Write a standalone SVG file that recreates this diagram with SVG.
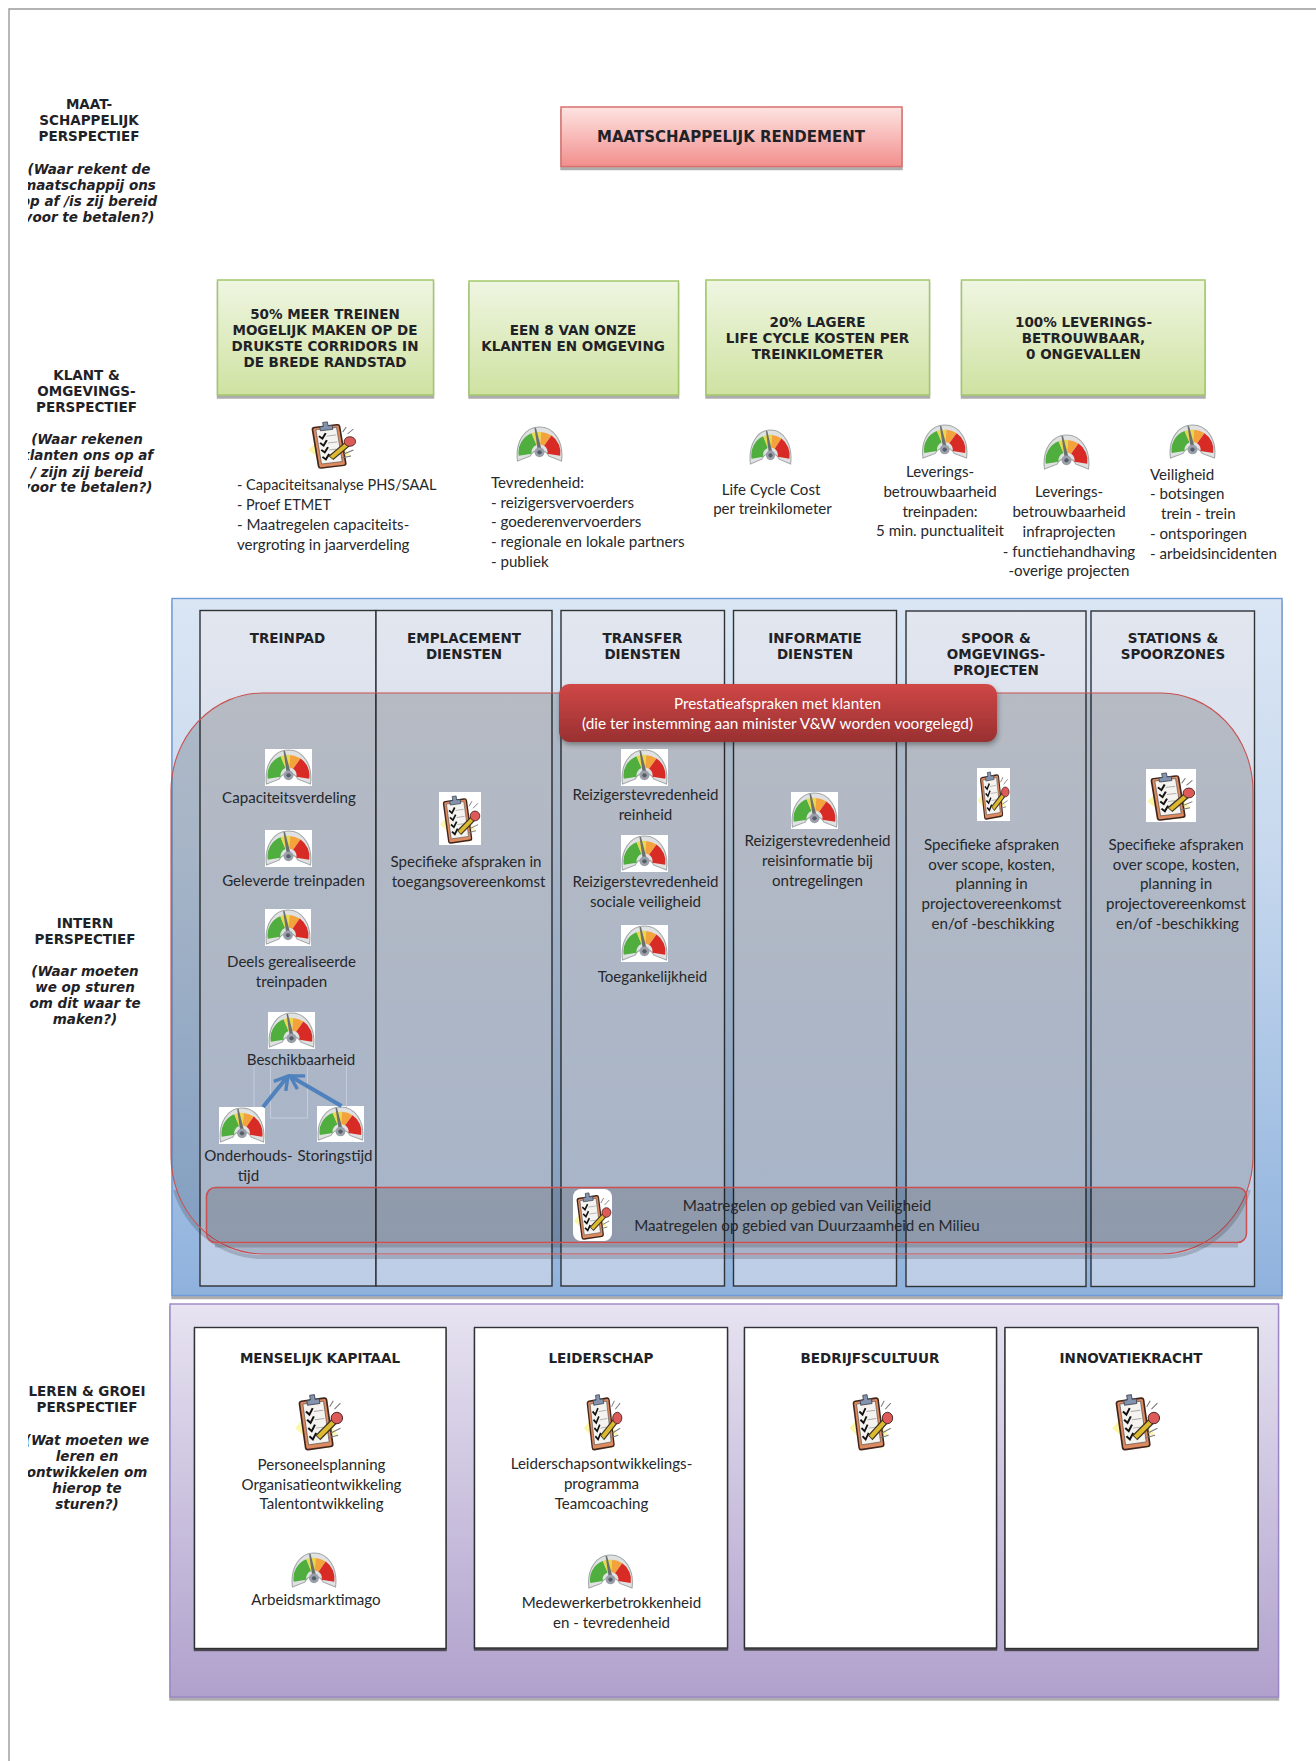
<svg xmlns="http://www.w3.org/2000/svg" xmlns:xlink="http://www.w3.org/1999/xlink" width="1316" height="1761" viewBox="0 0 1316 1761">
<style>
text{text-anchor:middle;fill:#26282c}
.h{font:bold 13.5px "DejaVu Sans",Verdana,sans-serif;fill:#1f2226}
.hi{font:italic bold 13.5px "DejaVu Sans",Verdana,sans-serif;fill:#1f2226}
.r{font-size:15px}
.t{font:15.1px Lato,"Open Sans",sans-serif}
.l{text-anchor:start}
.w{fill:#fff}
.green{fill:url(#gGreen);stroke:#a3c76a;stroke-width:1.5;filter:url(#sh)}
.col{fill:url(#gCol);stroke:#303236;stroke-width:1.4}
.card{fill:#fff;stroke:#2e3034;stroke-width:1.4;filter:url(#sh2)}
.conn{fill:none;stroke:#4f81bd;stroke-width:4;marker-end:url(#arr)}
.faint{fill:none;stroke:#c3cddd;stroke-width:1}
.soft{fill:none;stroke:#2f3338;stroke-opacity:.22;stroke-width:4}
</style>
<defs>
<linearGradient id="gRed" x1="0" y1="0" x2="0" y2="1"><stop offset="0" stop-color="#fde4e2"/><stop offset="1" stop-color="#f28f8d"/></linearGradient>
<linearGradient id="gGreen" x1="0" y1="0" x2="0" y2="1"><stop offset="0" stop-color="#eff6e2"/><stop offset="1" stop-color="#cfe2a1"/></linearGradient>
<linearGradient id="gBlue" x1="0" y1="0" x2="0" y2="1"><stop offset="0" stop-color="#dae6f4"/><stop offset=".35" stop-color="#c8d9ee"/><stop offset="1" stop-color="#8fb2dd"/></linearGradient>
<linearGradient id="gCol" gradientUnits="userSpaceOnUse" x1="0" y1="610" x2="0" y2="1286"><stop offset="0" stop-color="#e2e6ef"/><stop offset="1" stop-color="#bdcde6"/></linearGradient>
<linearGradient id="gPurple" x1="0" y1="0" x2="0" y2="1"><stop offset="0" stop-color="#e7e3f1"/><stop offset="1" stop-color="#b0a1cc"/></linearGradient>
<linearGradient id="gOver" x1="0" y1="0" x2="0" y2="1"><stop offset="0" stop-color="#000" stop-opacity=".18"/><stop offset="1" stop-color="#000" stop-opacity=".13"/></linearGradient>
<linearGradient id="gBanner" x1="0" y1="0" x2="0" y2="1"><stop offset="0" stop-color="#d04746"/><stop offset="1" stop-color="#993031"/></linearGradient>
<filter id="sh" x="-5%" y="-5%" width="110%" height="115%"><feDropShadow dx="0" dy="3" stdDeviation=".6" flood-color="#8a8a8a" flood-opacity=".7"/></filter>
<filter id="sh2" x="-5%" y="-5%" width="110%" height="110%"><feDropShadow dx="0" dy="2" stdDeviation=".6" flood-color="#333" flood-opacity=".8"/></filter>
<filter id="sh3" x="-5%" y="-10%" width="110%" height="130%"><feDropShadow dx="1" dy="3" stdDeviation="2.5" flood-color="#333" flood-opacity=".45"/></filter>
<clipPath id="cl"><rect x="28" y="0" width="300" height="1761"/></clipPath>
<clipPath id="rr"><rect x="573" y="1189" width="39" height="52" rx="8"/></clipPath>
<marker id="arr" viewBox="0 0 12 12" refX="10.5" refY="6" markerWidth="4.6" markerHeight="4.6" orient="auto"><path d="M2 1 10.5 6 2 11" fill="none" stroke="#4f81bd" stroke-width="2.2"/></marker>
<symbol id="gauge" viewBox="0 0 47 38" preserveAspectRatio="none">
<rect width="47" height="38" fill="#fff"/>
<path d="M1.5 36C-1 16 9 1 23.5 1S48 16 45.5 36L33 31A10.5 10.5 0 0 0 14 31Z" fill="#dfe1e2" stroke="#a2a7a7" stroke-width="1.1"/>
<path d="M2.8 30.6A21 21 0 0 1 15.6 7.5L20.5 19.6A8 8 0 0 0 15.6 28.4Z" fill="#4fae3e"/>
<path d="M15.6 7.5A21 21 0 0 1 25.3 6.1L24.2 19A8 8 0 0 0 20.5 19.6Z" fill="#e9d84f"/>
<path d="M25.3 6.1A21 21 0 0 1 35.5 9.8L28.1 20.4A8 8 0 0 0 24.2 19Z" fill="#f3a23c"/>
<path d="M35.5 9.8A21 21 0 0 1 44.2 30.6L31.4 28.4A8 8 0 0 0 28.1 20.4Z" fill="#d92b26"/>
<path d="M18.5 2 20 2 26 26 22 27Z" fill="#6c6f70"/>
<circle cx="23.5" cy="27" r="5" fill="#9aa0aa"/><circle cx="23.5" cy="27" r="2.2" fill="#565c68"/>
</symbol>
<symbol id="clip" viewBox="0 0 42 52" preserveAspectRatio="none">
<rect width="42" height="52" fill="#fff"/>
<path d="M1 32 8 24 8 8 14 18 26 12 28 26 37 38 28 37 30 50 20 43 9 48 9 39Z" fill="#fbf6a8"/>
<g transform="rotate(-8 18 28)">
<rect x="7" y="8" width="23" height="41" rx="2" fill="#dd8a60" stroke="#3f251c" stroke-width="1.4"/>
<rect x="9.8" y="10.5" width="17.5" height="34.5" fill="#f5f3ef" stroke="#444" stroke-width=".5"/>
<path d="M13.5 12V8H16.5V4H20.5V8H24V12Z" fill="#8393ad" stroke="#3d4350" stroke-width=".7"/>
<path d="M11.5 17 14 20 17.5 15M11.5 24 14 27 17.5 22M11.5 31 14 34 17.5 29M11.5 38 14 41 17.5 36" fill="none" stroke="#111" stroke-width="1.7"/>
<path d="M18 18H26M18 25H26M18 32H24M18 39H21" stroke="#aaa" stroke-width=".8"/>
</g>
<path d="M20 40 34 26" stroke="#3a3226" stroke-width="6"/><path d="M20.5 39.5 34 26" stroke="#dcb92f" stroke-width="3.8"/>
<circle cx="36" cy="23.5" r="4.8" fill="#dc5a58" stroke="#422" stroke-width=".8"/>
<path d="M30 14 33 9M34 16 39 11M31 36 39 32M29 40 37 38" stroke="#777" stroke-width=".9"/>
</symbol>
</defs>

<rect width="1316" height="1761" fill="#fff"/>
<path d="M9 1761V9H1316" fill="none" stroke="#9a9a9a" stroke-width="1.4"/>

<g id="label-maatschappelijk"><g clip-path="url(#cl)">
<text class="h" x="89" y="109">MAAT-</text><text class="h" x="89" y="125">SCHAPPELIJK</text><text class="h" x="89" y="141">PERSPECTIEF</text>
<text class="hi" x="89" y="174">(Waar rekent de</text><text class="hi" x="89" y="190">maatschappij ons</text><text class="hi" x="89" y="206">op af /is zij bereid</text><text class="hi" x="89" y="222">voor te betalen?)</text>
</g></g>
<g id="label-klant"><g clip-path="url(#cl)">
<text class="h" x="86.5" y="380">KLANT &amp;</text><text class="h" x="86.5" y="396">OMGEVINGS-</text><text class="h" x="86.5" y="412">PERSPECTIEF</text>
<text class="hi" x="87" y="444">(Waar rekenen</text><text class="hi" x="87" y="460">klanten ons op af</text><text class="hi" x="87" y="476.5">/ zijn zij bereid</text><text class="hi" x="87" y="492">voor te betalen?)</text>
</g></g>
<g id="label-intern"><g clip-path="url(#cl)">
<text class="h" x="85" y="928">INTERN</text><text class="h" x="85" y="944">PERSPECTIEF</text>
<text class="hi" x="85" y="976">(Waar moeten</text><text class="hi" x="85" y="992">we op sturen</text><text class="hi" x="85" y="1008">om dit waar te</text><text class="hi" x="85" y="1024">maken?)</text>
</g></g>
<g id="label-leren"><g clip-path="url(#cl)">
<text class="h" x="87" y="1396">LEREN &amp; GROEI</text><text class="h" x="87" y="1412">PERSPECTIEF</text>
<text class="hi" x="87" y="1445">(Wat moeten we</text><text class="hi" x="87" y="1461">leren en</text><text class="hi" x="87" y="1477">ontwikkelen om</text><text class="hi" x="87" y="1493">hierop te</text><text class="hi" x="87" y="1509">sturen?)</text>
</g></g>

<g id="rendement"><rect x="561" y="107" width="341" height="59.5" fill="url(#gRed)" stroke="#d9706c" stroke-width="1.5" filter="url(#sh)"/><text class="h r" x="731" y="142">MAATSCHAPPELIJK RENDEMENT</text></g>

<g id="doel-1"><rect class="green" x="217.5" y="280" width="216" height="115"/><text class="h" x="325" y="319">50% MEER TREINEN</text><text class="h" x="325" y="335">MOGELIJK MAKEN OP DE</text><text class="h" x="325" y="351">DRUKSTE CORRIDORS IN</text><text class="h" x="325" y="367">DE BREDE RANDSTAD</text></g>
<g id="doel-2"><rect class="green" x="469" y="281" width="209.5" height="114"/><text class="h" x="573" y="335">EEN 8 VAN ONZE</text><text class="h" x="573" y="351">KLANTEN EN OMGEVING</text></g>
<g id="doel-3"><rect class="green" x="706" y="280" width="223.5" height="115"/><text class="h" x="817.5" y="327">20% LAGERE</text><text class="h" x="817.5" y="343">LIFE CYCLE KOSTEN PER</text><text class="h" x="817.5" y="359">TREINKILOMETER</text></g>
<g id="doel-4"><rect class="green" x="961.5" y="280" width="243.5" height="115"/><text class="h" x="1083.5" y="327">100% LEVERINGS-</text><text class="h" x="1083.5" y="343">BETROUWBAAR,</text><text class="h" x="1083.5" y="359">0 ONGEVALLEN</text></g>

<g id="kpi-capaciteit"><use href="#clip" x="307" y="418" width="50" height="52"/>
<text class="t l" x="237" y="490" textLength="199.5" lengthAdjust="spacingAndGlyphs">- Capaciteitsanalyse PHS/SAAL</text><text class="t l" x="237" y="510" textLength="94" lengthAdjust="spacingAndGlyphs">- Proef ETMET</text><text class="t l" x="237" y="530">- Maatregelen capaciteits-</text><text class="t l" x="237" y="550">vergroting in jaarverdeling</text></g>
<g id="kpi-tevredenheid"><use href="#gauge" x="516" y="426" width="47" height="37"/>
<text class="t l" x="491" y="488">Tevredenheid:</text><text class="t l" x="491" y="507.5">- reizigersvervoerders</text><text class="t l" x="491" y="527">- goederenvervoerders</text><text class="t l" x="491" y="547" textLength="193.5" lengthAdjust="spacingAndGlyphs">- regionale en lokale partners</text><text class="t l" x="491" y="567">- publiek</text></g>
<g id="kpi-lcc"><use href="#gauge" x="749" y="429" width="43" height="37"/><text class="t" x="771" y="495">Life Cycle Cost</text><text class="t" x="772.5" y="514">per treinkilometer</text></g>
<g id="kpi-lever-trein"><use href="#gauge" x="921.5" y="424" width="46.5" height="36"/><text class="t" x="940" y="477">Leverings-</text><text class="t" x="940" y="497">betrouwbaarheid</text><text class="t" x="940" y="517">treinpaden:</text><text class="t" x="940" y="536">5 min. punctualiteit</text></g>
<g id="kpi-lever-infra"><use href="#gauge" x="1043" y="434" width="47" height="37"/><text class="t" x="1069" y="497">Leverings-</text><text class="t" x="1069" y="517">betrouwbaarheid</text><text class="t" x="1069" y="537">infraprojecten</text><text class="t" x="1069" y="557">- functiehandhaving</text><text class="t" x="1069" y="576">-overige projecten</text></g>
<g id="kpi-veiligheid"><use href="#gauge" x="1169" y="424" width="47" height="36"/><text class="t l" x="1150" y="480">Veiligheid</text><text class="t l" x="1150" y="499">- botsingen</text><text class="t l" x="1161" y="519">trein - trein</text><text class="t l" x="1150" y="539">- ontsporingen</text><text class="t l" x="1150" y="559">- arbeidsincidenten</text></g>

<g id="intern-panel"><rect x="172" y="598.5" width="1110" height="697" fill="url(#gBlue)" stroke="#6e9bd5" stroke-width="1.4" filter="url(#sh)"/></g>
<g id="kolom-treinpad"><rect class="col" x="200" y="610.5" width="176" height="675.5"/><text class="h" x="287.5" y="643">TREINPAD</text></g>
<g id="kolom-emplacement"><rect class="col" x="376" y="610.5" width="176" height="675.5"/><text class="h" x="464" y="643">EMPLACEMENT</text><text class="h" x="464" y="659">DIENSTEN</text></g>
<g id="kolom-transfer"><rect class="col" x="561" y="610.5" width="163.5" height="675.5"/><text class="h" x="642.5" y="643">TRANSFER</text><text class="h" x="642.5" y="659">DIENSTEN</text></g>
<g id="kolom-informatie"><rect class="col" x="733.5" y="610.5" width="163" height="675.5"/><text class="h" x="815" y="643">INFORMATIE</text><text class="h" x="815" y="659">DIENSTEN</text></g>
<g id="kolom-spoor"><rect class="col" x="906" y="611" width="180" height="675.5"/><text class="h" x="996" y="643">SPOOR &amp;</text><text class="h" x="996" y="659">OMGEVINGS-</text><text class="h" x="996" y="675">PROJECTEN</text></g>
<g id="kolom-stations"><rect class="col" x="1091" y="611" width="163.5" height="675.5"/><text class="h" x="1173" y="643">STATIONS &amp;</text><text class="h" x="1173" y="659">SPOORZONES</text></g>

<g id="prestatie-vlak"><path class="soft" d="M175 1190A92 98 0 0 0 263 1257H1161A92 98 0 0 0 1249 1190"/><rect x="171" y="693" width="1082" height="561" rx="92" ry="98" fill="url(#gOver)" stroke="#c9504f" stroke-width="1.1"/></g>
<g id="maatregelen"><path class="soft" d="M215 1245.5H1238"/><rect x="206.5" y="1187.5" width="1040" height="55" rx="9" fill="#000" fill-opacity=".14" stroke="#c9504f" stroke-width="1.5"/>
<g clip-path="url(#rr)"><use href="#clip" x="573" y="1189" width="39" height="52"/></g>
<text class="t" x="807" y="1211" textLength="248.5" lengthAdjust="spacingAndGlyphs">Maatregelen op gebied van Veiligheid</text><text class="t" x="807" y="1231" textLength="345.5" lengthAdjust="spacingAndGlyphs">Maatregelen op gebied van Duurzaamheid en Milieu</text></g>
<g id="prestatieafspraken"><rect x="559" y="684" width="438" height="58" rx="11" fill="url(#gBanner)" filter="url(#sh3)"/><text class="t w" x="777.5" y="709" textLength="207" lengthAdjust="spacingAndGlyphs">Prestatieafspraken met klanten</text><text class="t w" x="777.5" y="729" textLength="391" lengthAdjust="spacingAndGlyphs">(die ter instemming aan minister V&amp;W worden voorgelegd)</text></g>

<g id="kpi-capaciteitsverdeling"><use href="#gauge" x="265" y="749" width="47" height="37"/><text class="t" x="289" y="803">Capaciteitsverdeling</text></g>
<g id="kpi-geleverde"><use href="#gauge" x="265" y="830" width="47" height="37"/><text class="t" x="293.5" y="886">Geleverde treinpaden</text></g>
<g id="kpi-deels"><use href="#gauge" x="265" y="909" width="46" height="37"/><text class="t" x="291.5" y="967">Deels gerealiseerde</text><text class="t" x="291.5" y="987">treinpaden</text></g>
<g id="kpi-beschikbaarheid"><use href="#gauge" x="268" y="1012" width="47" height="37"/><text class="t" x="301" y="1065">Beschikbaarheid</text></g>
<g id="kpi-onderhoud"><use href="#gauge" x="219" y="1107" width="46" height="37"/><text class="t" x="248.5" y="1161">Onderhouds-</text><text class="t" x="248.5" y="1181">tijd</text></g>
<g id="kpi-storing"><use href="#gauge" x="317" y="1106" width="47" height="36"/><text class="t" x="335" y="1161">Storingstijd</text></g>
<g id="kpi-toegang"><use href="#clip" x="439" y="792" width="42" height="53"/><text class="t" x="466" y="867">Specifieke afspraken in</text><text class="t" x="468.5" y="887">toegangsovereenkomst</text></g>
<g id="kpi-reinheid"><use href="#gauge" x="621" y="749" width="47" height="37"/><text class="t" x="645.5" y="800">Reizigerstevredenheid</text><text class="t" x="645.5" y="820">reinheid</text></g>
<g id="kpi-sociale-veiligheid"><use href="#gauge" x="621" y="835" width="47" height="37"/><text class="t" x="645.5" y="887">Reizigerstevredenheid</text><text class="t" x="645.5" y="907">sociale veiligheid</text></g>
<g id="kpi-toegankelijkheid"><use href="#gauge" x="621" y="925" width="47" height="37"/><text class="t" x="652.5" y="982">Toegankelijkheid</text></g>
<g id="kpi-reisinformatie"><use href="#gauge" x="791" y="792" width="47" height="37"/><text class="t" x="817.5" y="846">Reizigerstevredenheid</text><text class="t" x="817.5" y="866">reisinformatie bij</text><text class="t" x="817.5" y="886">ontregelingen</text></g>
<g id="kpi-spoor"><use href="#clip" x="977" y="768" width="33" height="53"/><text class="t" x="991.5" y="850">Specifieke afspraken</text><text class="t" x="991.5" y="870">over scope, kosten,</text><text class="t" x="991.5" y="889">planning in</text><text class="t" x="991.5" y="909">projectovereenkomst</text><text class="t" x="993" y="929">en/of -beschikking</text></g>
<g id="kpi-stations"><use href="#clip" x="1146" y="769" width="50" height="53"/><text class="t" x="1176" y="850">Specifieke afspraken</text><text class="t" x="1176" y="870">over scope, kosten,</text><text class="t" x="1176" y="889">planning in</text><text class="t" x="1176" y="909">projectovereenkomst</text><text class="t" x="1177.5" y="929">en/of -beschikking</text></g>

<g id="connectors">
<path class="faint" d="M254 1065V1107M270.5 1066V1118H307.5V1066M346.5 1065V1107"/>
<path class="conn" d="M263 1107 288 1076"/>
<path class="conn" d="M341.5 1106 290 1076"/>
</g>

<g id="leren-panel"><rect x="170" y="1304" width="1108.5" height="393" fill="url(#gPurple)" stroke="#9a86c4" stroke-width="1.4" filter="url(#sh)"/></g>
<g id="menselijk-kapitaal"><rect class="card" x="194.5" y="1327.5" width="251.5" height="321"/><text class="h" x="320" y="1363">MENSELIJK KAPITAAL</text><use href="#clip" x="294" y="1390" width="50" height="62"/><text class="t" x="321.5" y="1470">Personeelsplanning</text><text class="t" x="321.5" y="1490">Organisatieontwikkeling</text><text class="t" x="321.5" y="1509">Talentontwikkeling</text><use href="#gauge" x="291" y="1552" width="46" height="37"/><text class="t" x="316" y="1605">Arbeidsmarktimago</text></g>
<g id="leiderschap"><rect class="card" x="474.5" y="1327.5" width="253" height="320.5"/><text class="h" x="601" y="1363">LEIDERSCHAP</text><use href="#clip" x="583" y="1390" width="40" height="62"/><text class="t" x="601.5" y="1469">Leiderschapsontwikkelings-</text><text class="t" x="601.5" y="1489">programma</text><text class="t" x="601.5" y="1509">Teamcoaching</text><use href="#gauge" x="587.5" y="1554" width="46" height="36"/><text class="t" x="611.5" y="1608">Medewerkerbetrokkenheid</text><text class="t" x="611.5" y="1628">en - tevredenheid</text></g>
<g id="bedrijfscultuur"><rect class="card" x="744.5" y="1327.5" width="252" height="320.5"/><text class="h" x="870" y="1363">BEDRIJFSCULTUUR</text><use href="#clip" x="848.5" y="1390" width="45.5" height="62"/></g>
<g id="innovatiekracht"><rect class="card" x="1005" y="1327.5" width="253" height="321"/><text class="h" x="1131" y="1363">INNOVATIEKRACHT</text><use href="#clip" x="1111" y="1390" width="50" height="62"/></g>
</svg>
